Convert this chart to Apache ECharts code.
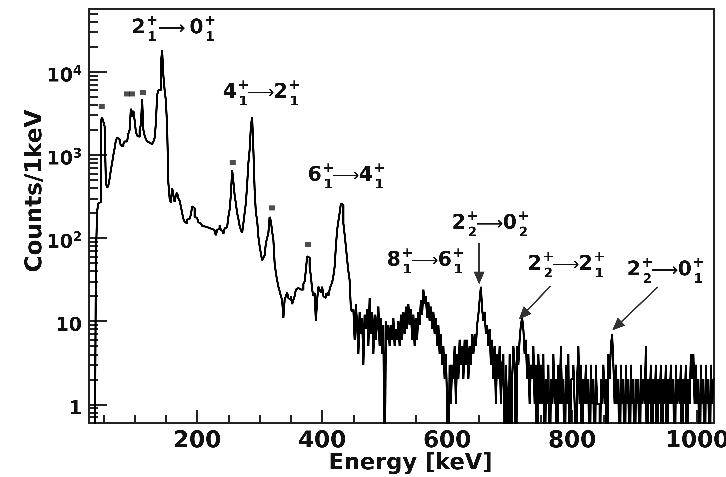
<!DOCTYPE html>
<html>
<head>
<meta charset="utf-8">
<script src="https://cdn.jsdelivr.net/npm/echarts@6/dist/echarts.min.js"></script>
<style>
  html, body { margin: 0; padding: 0; background: #fff; }
  #chart { width: 726px; height: 477px; }
</style>
</head>
<body>
<div id="chart"></div>
<script>
// gamma spectrum, 2 keV bins, counts (0 = empty bin)
const BIN_START = 28
const BIN_WIDTH = 2

// 28 - 150 keV
const countsLow = [
  0, 0, 0, 0, 0, 57, 210, 264, 270, 2600,
  2800, 2500, 2200, 460, 400, 430, 520, 660, 800, 1000,
  1200, 1500, 1600, 1550, 1450, 1300, 1270, 1350, 1450, 1450,
  1500, 1800, 2000, 3600, 2900, 3400, 2600, 1900, 1700, 1650,
  2000, 2300, 4650, 2000, 1700, 1550, 1450, 1400, 1350, 1350,
  1400, 1440, 1600, 2400, 5250, 6000, 6000, 12600, 18200, 9000,
  6000
]
// 150 - 450 keV
const countsMid = [
  4500, 2180, 460, 300, 264, 400, 330, 270, 330, 350,
  300, 280, 240, 200, 170, 157, 150, 165, 172, 178,
  190, 240, 230, 180, 174, 165, 155, 150, 145, 140,
  138, 136, 135, 130, 132, 132, 128, 122, 125, 118,
  108, 125, 130, 142, 125, 120, 112, 130, 135, 140,
  180, 220, 330, 660, 475, 330, 260, 200, 170, 140,
  125, 115, 150, 200, 264, 435, 800, 1150, 2180, 2870,
  1150, 380, 200, 165, 104, 80, 65, 54, 58, 62,
  87, 100, 115, 180, 160, 120, 95, 50, 38, 31,
  26, 23, 20, 18, 11, 18, 20, 22, 19, 18,
  20, 16, 18, 20, 24, 25, 26, 24, 23, 24,
  28, 30, 41, 60, 58, 45, 35, 24, 20, 22,
  10, 18, 26, 24, 22, 26, 20, 19, 21, 22,
  20, 24, 27, 29, 35, 45, 79, 125, 160, 200,
  260, 250, 150, 110, 79, 55, 40, 31, 14, 13
]
// 450 - 1028 keV
const countsHigh = [
  14, 6, 16, 9, 4, 13, 7, 11, 3, 12,
  8, 14, 5, 19, 7, 13, 4, 12, 6, 10,
  15, 5, 11, 4, 9, 0, 10, 6, 9, 5,
  9, 6, 11, 5, 8, 6, 10, 5, 12, 6,
  13, 7, 15, 8, 16, 9, 14, 6, 12, 5,
  11, 6, 13, 9, 18, 12, 24, 16, 20, 11,
  17, 10, 15, 8, 13, 7, 11, 5, 9, 4,
  7, 3, 5, 2, 4, 1, 0, 3, 1, 3,
  2, 5, 1, 4, 2, 6, 3, 5, 2, 6,
  3, 6, 2, 5, 3, 7, 4, 7, 5, 9,
  12, 18, 26, 14, 10, 13, 7, 9, 5, 8,
  3, 6, 2, 5, 1, 4, 2, 5, 1, 3,
  4, 0, 3, 1, 0, 4, 0, 2, 5, 3,
  0, 5, 3, 6, 9, 11, 8, 4, 6, 2,
  4, 1, 3, 2, 5, 1, 3, 0, 4, 1,
  3, 1, 4, 0, 2, 1, 3, 0, 2, 1,
  4, 1, 2, 0, 3, 1, 5, 1, 2, 0,
  3, 1, 4, 0, 2, 2, 3, 1, 0, 2,
  5, 1, 3, 0, 2, 1, 3, 1, 2, 0,
  3, 1, 2, 0, 3, 1, 1, 0, 2, 1,
  3, 1, 2, 0, 4, 2, 5, 7, 3, 1,
  3, 1, 2, 0, 3, 1, 2, 0, 3, 1,
  2, 0, 3, 1, 2, 0, 2, 1, 2, 0,
  3, 1, 2, 1, 5, 0, 2, 1, 3, 0,
  2, 1, 3, 0, 2, 1, 3, 0, 2, 1,
  3, 0, 2, 1, 3, 1, 2, 0, 3, 1,
  2, 1, 3, 0, 2, 1, 3, 0, 2, 1,
  4, 2, 4, 1, 3, 1, 2, 0, 3, 1,
  2, 0, 3, 1, 2, 0, 3, 1, 2
]

// peaks marked with an asterisk (contaminants)
const STAR_E = [47.2, 88.3, 96.3, 113.6, 256.8, 319.5, 377.6]
const STAR_C = [3800, 5400, 5400, 5600, 810, 230, 83]

// transition labels: initial state, its index, final state, its index, anchor
const TR_FROM = ['2', '4', '6', '2', '8', '2', '2']
const TR_FROM_SUB = ['1', '1', '1', '2', '1', '2', '2']
const TR_TO = ['0', '2', '4', '0', '6', '2', '0']
const TR_TO_SUB = ['1', '1', '1', '2', '1', '1', '1']
const TR_E = [95, 241, 377, 607.5, 503.5, 729, 887.5]
const TR_C = [33500, 5620, 564, 149, 53.6, 48, 41.2]

// arrows pointing at the weak lines: [E, counts] start -> end
const ARROW_FROM = [[651.2, 87], [765.4, 26.5], [937.1, 25.7]]
const ARROW_TO = [[651.2, 33], [721.6, 11.9], [871.5, 8.74]]

const X_MAJOR = [200, 400, 600, 800, 1000]
const X_MINOR = [50, 100, 150, 250, 300, 350, 450, 500, 550, 650, 700, 750, 850, 900, 950]
const Y_MAJOR = [1, 10, 100, 1000, 10000]
const X_MIN = 27, X_MAX = 1027
const Y_MIN = 0.596, Y_MAX = 56800

const Y_MINOR = [0.6, 0.7, 0.8, 0.9]
for (const dec of [1, 10, 100, 1000, 10000]) {
  for (let k = 2; k <= 9; k++) if (k * dec < Y_MAX) Y_MINOR.push(k * dec)
}

const EMPTY = 0.05 // empty bins drop below the frame, as in the original
const counts = countsLow.concat(countsMid, countsHigh)
const points = counts.map((c, i) => [BIN_START + i * BIN_WIDTH, c > 0 ? c : EMPTY])
points.push([BIN_START + counts.length * BIN_WIDTH, points[points.length - 1][1]])

const FONT = '"DejaVu Sans", "Liberation Sans", sans-serif'
const INK = '#111'
const FRAME = '#222'

// high backing ratio so the 1.25 px wide bin steps are not merged away
const chart = echarts.init(document.getElementById('chart'), null, { renderer: 'canvas', devicePixelRatio: 3 })

const tickStyle = { color: FRAME, width: 1.5 }

chart.setOption({
  animation: false,
  grid: {
    left: 89, right: 12, top: 9, bottom: 54, outerBoundsMode: 'none', containLabel: false,
    show: true, borderColor: FRAME, borderWidth: 1.5
  },
  xAxis: [{
    type: 'value', min: X_MIN, max: X_MAX, position: 'bottom',
    axisLine: { show: true, lineStyle: tickStyle },
    axisTick: { show: true, inside: true, length: 13, customValues: X_MAJOR, lineStyle: tickStyle },
    axisLabel: {
      customValues: X_MAJOR, formatter: v => String(v),
      color: INK, fontFamily: FONT, fontWeight: 'bold', fontSize: 23, margin: 7
    },
    splitLine: { show: false },
    name: 'Energy [keV]', nameLocation: 'middle', nameGap: 29, nameMoveOverlap: false,
    nameTextStyle: { color: INK, fontFamily: FONT, fontWeight: 'bold', fontSize: 22.5, padding: [0, 0, 0, 18] }
  }, {
    type: 'value', min: X_MIN, max: X_MAX, position: 'bottom',
    axisLine: { show: false },
    axisTick: { show: true, inside: true, length: 8, customValues: X_MINOR, lineStyle: tickStyle },
    axisLabel: { show: false },
    splitLine: { show: false }
  }],
  yAxis: [{
    type: 'log', min: Y_MIN, max: Y_MAX, position: 'left',
    axisLine: { show: true, lineStyle: tickStyle },
    axisTick: { show: true, inside: true, length: 18, customValues: Y_MAJOR, lineStyle: tickStyle },
    axisLabel: {
      customValues: Y_MAJOR, margin: 7, color: INK, padding: [10, 0, 0, 0],
      formatter: v => v >= 100 ? '{b|10}{s|' + Math.round(Math.log10(v)) + '}' : '{b|' + v + '}',
      rich: {
        b: { fontFamily: FONT, fontWeight: 'bold', fontSize: 19, lineHeight: 24, color: INK },
        s: { fontFamily: FONT, fontWeight: 'bold', fontSize: 13, lineHeight: 14, verticalAlign: 'top', color: INK }
      }
    },
    splitLine: { show: false },
    name: 'Counts/1keV', nameLocation: 'middle', nameGap: 42, nameMoveOverlap: false,
    nameTextStyle: { color: INK, fontFamily: FONT, fontWeight: 'bold', fontSize: 23, padding: [0, 0, 0, 50] }
  }, {
    type: 'log', min: Y_MIN, max: Y_MAX, position: 'left',
    axisLine: { show: false },
    axisTick: { show: true, inside: true, length: 9, customValues: Y_MINOR, lineStyle: tickStyle },
    axisLabel: { show: false },
    splitLine: { show: false }
  }],
  series: [{
    type: 'line', name: 'spectrum', xAxisIndex: 0, yAxisIndex: 0,
    data: points, step: 'end', symbol: 'none', clip: true,
    lineStyle: { color: '#000', width: 2.1 },
    markLine: {
      silent: true, symbol: ['none', 'triangle'], symbolSize: [11, 13],
      lineStyle: { color: '#333', width: 1.5, type: 'solid' },
      itemStyle: { color: '#111' },
      label: { show: false },
      data: ARROW_FROM.map((a, i) => [{ coord: a }, { coord: ARROW_TO[i] }])
    }
  }, {
    type: 'scatter', name: 'marked', xAxisIndex: 0, yAxisIndex: 0,
    data: STAR_E.map((e, i) => [e, STAR_C[i]]),
    symbol: 'rect', symbolSize: [6, 5],
    itemStyle: { color: '#222' }
  }]
})

// transition labels: big level spin, stacked "+" and level index, arrow, final level
function txt(text, x, y, size, align, weight) {
  return {
    type: 'text', x, y,
    style: {
      text, font: (weight || 'bold') + ' ' + size + 'px ' + FONT, fill: INK,
      align, verticalAlign: 'middle', textAlign: align, textVerticalAlign: 'middle'
    }
  }
}
const labels = TR_E.map((e, i) => {
  const [x, y] = chart.convertToPixel({ xAxisIndex: 0, yAxisIndex: 0 }, [e, TR_C[i]])
  const off = i === 0 ? 7 : 0
  return {
    type: 'group', x, y, silent: true,
    children: [
      txt(TR_FROM[i], 0, 0, 20, 'left'),
      txt('+', 20.5, -7, 14, 'center'),
      txt(TR_FROM_SUB[i], 20.5, 9.5, 13, 'center'),
      txt('\u27F6', 38 + off / 3, 1, 19, 'center', 'normal'),
      txt(TR_TO[i], 51 + off, 0, 20, 'left'),
      txt('+', 71.5 + off, -7, 14, 'center'),
      txt(TR_TO_SUB[i], 71.5 + off, 9.5, 13, 'center')
    ]
  }
})
chart.setOption({ graphic: labels })
</script>
</body>
</html>
